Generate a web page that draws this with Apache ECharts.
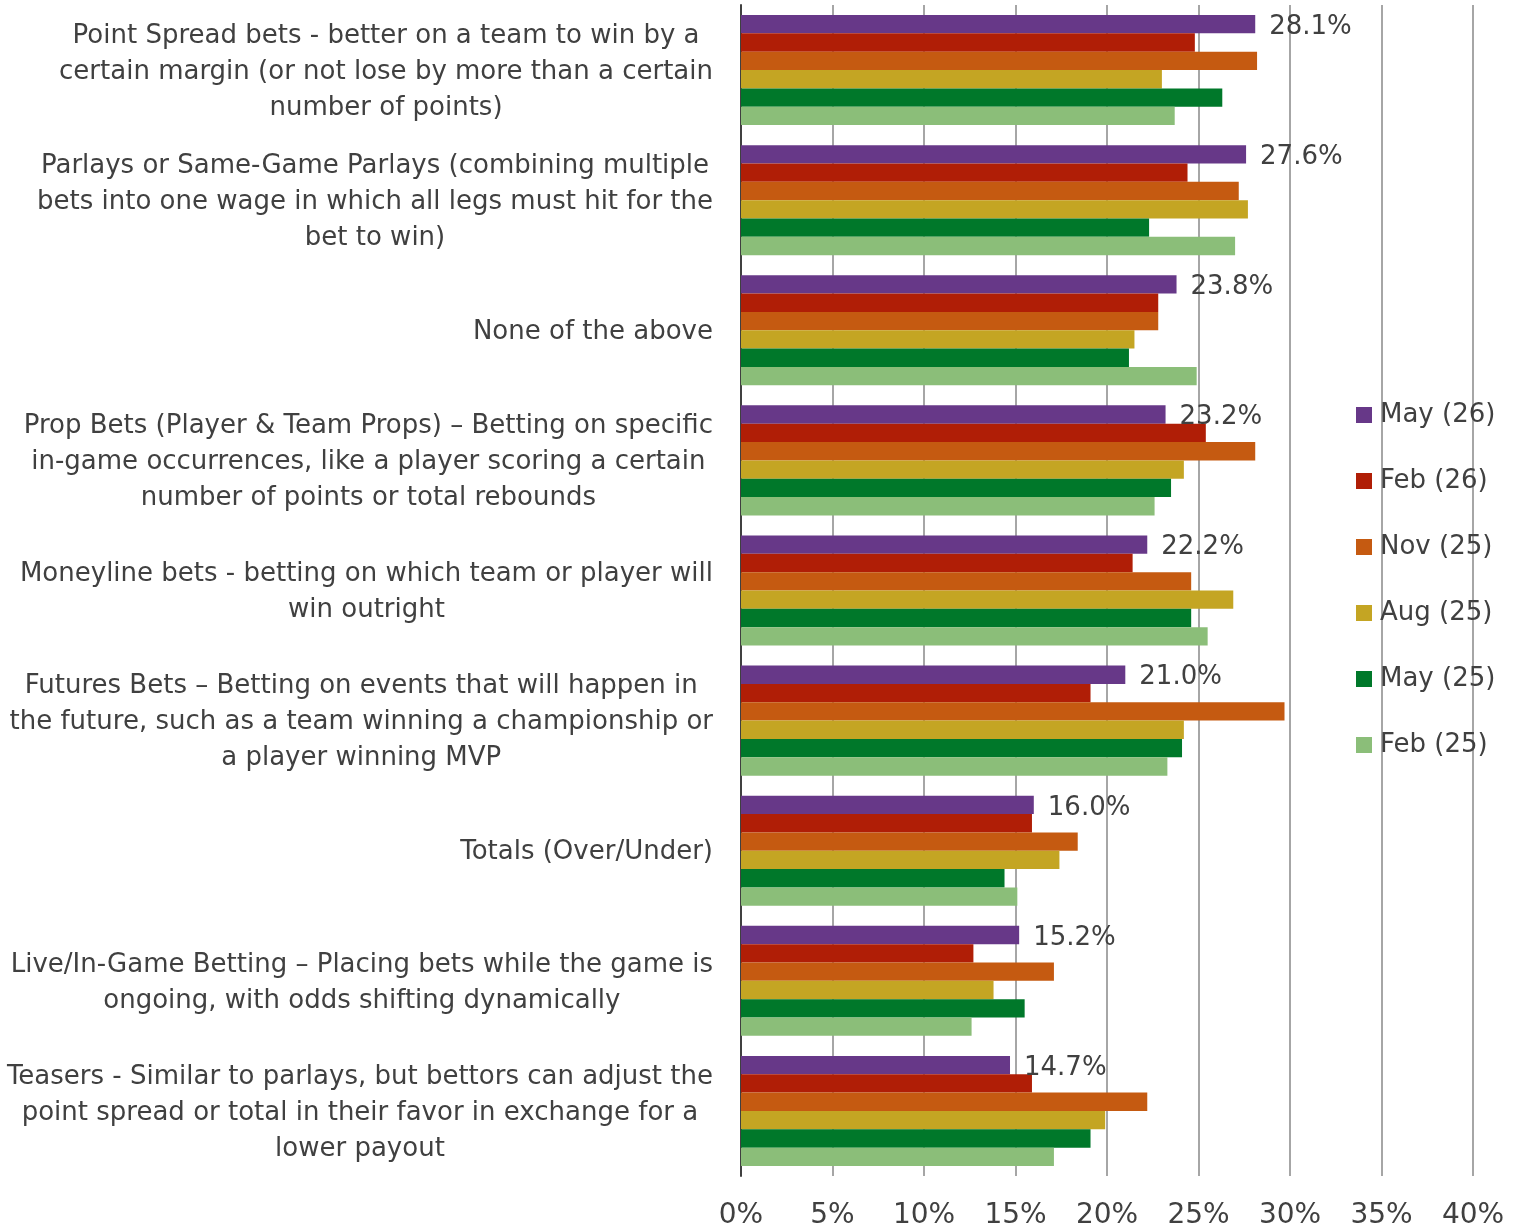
<!DOCTYPE html>
<html>
<head>
<meta charset="utf-8">
<script src="https://cdn.jsdelivr.net/npm/echarts@6/dist/echarts.min.js"></script>
<style>
  html, body { margin: 0; padding: 0; background: #ffffff; }
  #chart { width: 1520px; height: 1230px; }
</style>
</head>
<body>
<div id="chart"></div>
<script>
const categories = [
  "Point Spread bets - better on a team to win by a\ncertain margin (or not lose by more than a certain\nnumber of points)",
  "Parlays or Same-Game Parlays (combining multiple\nbets into one wage in which all legs must hit for the\nbet to win)",
  "None of the above",
  "Prop Bets (Player & Team Props) – Betting on specific\nin-game occurrences, like a player scoring a certain\nnumber of points or total rebounds",
  "Moneyline bets - betting on which team or player will\nwin outright",
  "Futures Bets – Betting on events that will happen in\nthe future, such as a team winning a championship or\na player winning MVP",
  "Totals (Over/Under)",
  "Live/In-Game Betting – Placing bets while the game is\nongoing, with odds shifting dynamically",
  "Teasers - Similar to parlays, but bettors can adjust the\npoint spread or total in their favor in exchange for a\nlower payout"
];
const seriesNames = ["May (26)", "Feb (26)", "Nov (25)", "Aug (25)", "May (25)", "Feb (25)"];
const may26 = [28.1, 27.6, 23.8, 23.2, 22.2, 21.0, 16.0, 15.2, 14.7];
const feb26 = [24.8, 24.4, 22.8, 25.4, 21.4, 19.1, 15.9, 12.7, 15.9];
const nov25 = [28.2, 27.2, 22.8, 28.1, 24.6, 29.7, 18.4, 17.1, 22.2];
const aug25 = [23.0, 27.7, 21.5, 24.2, 26.9, 24.2, 17.4, 13.8, 19.9];
const may25 = [26.3, 22.3, 21.2, 23.5, 24.6, 24.1, 14.4, 15.5, 19.1];
const feb25 = [23.7, 27.0, 24.9, 22.6, 25.5, 23.3, 15.1, 12.6, 17.1];
const xTicks = [0, 5, 10, 15, 20, 25, 30, 35, 40];

const colors = ["#673888", "#b01e06", "#c55a11", "#c4a523", "#00782a", "#8bbe79"];
const allValues = [may26, feb26, nov25, aug25, may25, feb25];
const FONT = '"DejaVu Sans", Verdana, sans-serif';
const TXT = '#404040';

const series = seriesNames.map((name, i) => ({
  name: name,
  type: 'bar',
  data: allValues[i],
  barGap: '0%',
  barCategoryGap: '15.4%',
  itemStyle: { color: colors[i] },
  label: i === 0 ? {
    show: true,
    position: 'right',
    distance: 14,
    offset: [0, 3],
    fontFamily: FONT,
    fontSize: 26,
    color: TXT,
    formatter: p => p.value.toFixed(1) + '%'
  } : { show: false }
}));

const chart = echarts.init(document.getElementById('chart'), null, { renderer: 'canvas' });
chart.setOption({
  animation: false,
  backgroundColor: '#ffffff',
  textStyle: { fontFamily: FONT },
  grid: { left: 741, right: 47, top: 5, bottom: 54, containLabel: false },
  legend: {
    data: seriesNames,
    orient: 'vertical',
    left: 1356,
    top: 399,
    padding: 0,
    itemWidth: 16,
    itemHeight: 16,
    itemGap: 34,
    icon: 'rect',
    textStyle: { fontFamily: FONT, fontSize: 26, color: TXT, lineHeight: 30, padding: [2, 0, 0, 3] }
  },
  xAxis: {
    type: 'value',
    min: xTicks[0],
    max: xTicks[xTicks.length - 1],
    interval: 5,
    axisLine: { show: false },
    axisTick: { show: false },
    splitLine: { show: true, lineStyle: { color: '#a6a6a6', width: 2 } },
    axisLabel: { fontFamily: FONT, fontSize: 28, color: TXT, margin: 26, formatter: '{value}%' }
  },
  yAxis: {
    type: 'category',
    data: categories,
    inverse: true,
    axisLine: { show: true, lineStyle: { color: '#404040', width: 2 } },
    axisTick: { show: false },
    axisLabel: {
      margin: 28,
      align: 'right',
      padding: [4, 0, 0, 0],
      formatter: (value) => value.split('\n').map(l => '{c|' + l + '}').join('\n'),
      rich: {
        c: { align: 'center', fontFamily: FONT, fontSize: 26, color: TXT, lineHeight: 36 }
      }
    }
  },
  series: series
});
</script>
</body>
</html>
